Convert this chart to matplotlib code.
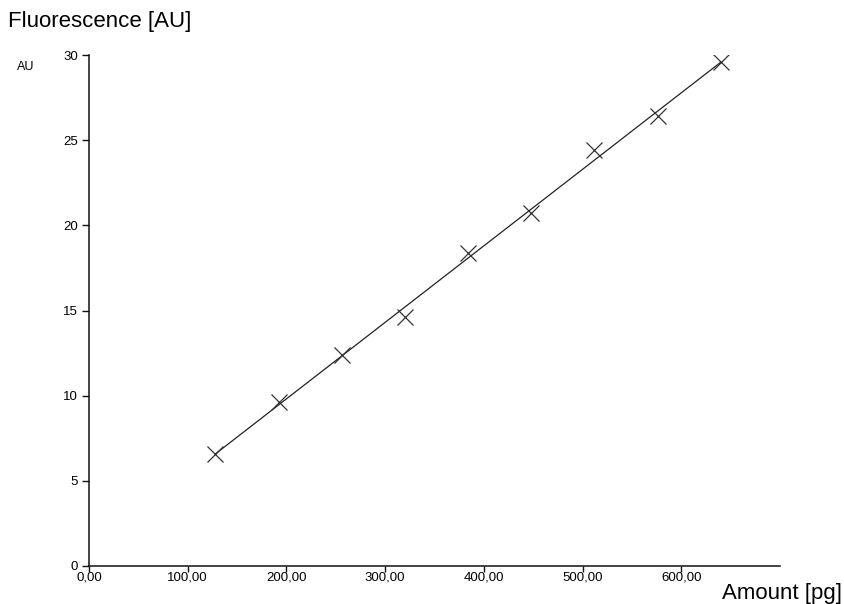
import numpy as np
import matplotlib
import matplotlib.pyplot as plt
from matplotlib.ticker import FuncFormatter

matplotlib.use('Agg')
plt.rcParams['font.family'] = ['Liberation Sans', 'DejaVu Sans']

# calibration standards
amount_pg = [128, 192, 256, 320, 384, 448, 512, 576, 640]
fluorescence_au = [6.6, 9.6, 12.4, 14.6, 18.4, 20.7, 24.4, 26.4, 29.6]

x_ticks = [0, 100, 200, 300, 400, 500, 600]
y_ticks = [0, 5, 10, 15, 20, 25, 30]

W, H = 845, 604
fig = plt.figure(figsize=(W / 100, H / 100), dpi=100)
ax = fig.add_axes([89 / W, 38 / H, (780 - 89) / W, (566 - 55) / H])

# linear regression through the standards
slope, intercept = np.polyfit(amount_pg, fluorescence_au, 1)
fit_x = np.array([amount_pg[0], amount_pg[-1]])
ax.plot(fit_x, slope * fit_x + intercept, color='#222222', lw=0.9, zorder=2)

ax.plot(amount_pg, fluorescence_au, ls='none', marker='x', ms=11,
        mew=0.9, color='#333333', zorder=3)

ax.set_xlim(0, 700)
ax.set_ylim(0, 30)
ax.set_xticks(x_ticks)
ax.set_yticks(y_ticks)
ax.xaxis.set_major_formatter(
    FuncFormatter(lambda v, p: f"{v:.2f}".replace('.', ',')))
ax.yaxis.set_major_formatter(FuncFormatter(lambda v, p: f"{v:g}"))

for side in ['top', 'right']:
    ax.spines[side].set_visible(False)
for side in ['left', 'bottom']:
    ax.spines[side].set_linewidth(1.1)
    ax.spines[side].set_color('#111111')

ax.tick_params(axis='both', direction='out', length=5, width=1.0,
               color='#111111', labelsize=9.5, pad=3)
ax.tick_params(axis='x', length=4, pad=0)

fig.text(8 / W, 1 - 22 / H, 'Fluorescence [AU]', fontsize=16,
         ha='left', va='center')
fig.text(17 / W, 1 - 67 / H, 'AU', fontsize=9, ha='left', va='center')
fig.text(842 / W, 1 - 593 / H, 'Amount [pg]', fontsize=16,
         ha='right', va='center')

fig.savefig('out.png', dpi=100)
